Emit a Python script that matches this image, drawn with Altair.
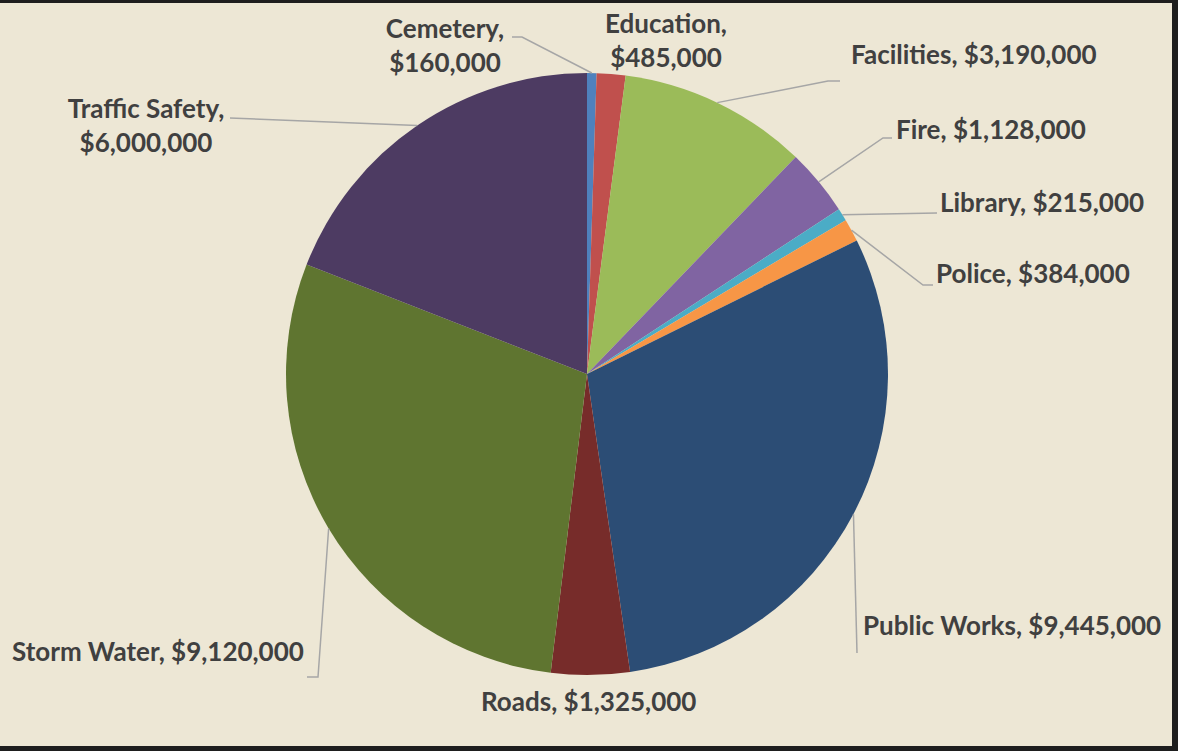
import altair as alt
import pandas as pd
import numpy as np

# ---- data ----
categories = ["Cemetery", "Education", "Facilities", "Fire", "Library", "Police",
              "Public Works", "Roads", "Storm Water", "Traffic Safety"]
amounts = [160000, 485000, 3190000, 1128000, 215000, 384000,
           9445000, 1325000, 9120000, 6000000]
label_texts = ["Cemetery,\n$160,000", "Education,\n$485,000", "Facilities, $3,190,000",
               "Fire, $1,128,000", "Library, $215,000", "Police, $384,000",
               "Public Works, $9,445,000", "Roads, $1,325,000",
               "Storm Water, $9,120,000", "Traffic Safety,\n$6,000,000"]

# ---- styles / layout ----
colors = ["#4F81BD", "#C0504D", "#9BBB59", "#8064A2", "#4BACC6", "#F79646",
          "#2C4D75", "#772C2A", "#5F7530", "#4D3B62"]
W, H = 1178, 751
CX, CY, R = 587, 374, 301
label_x = [445, 666, 851, 896, 940, 936, 863, 481, 12, 146]
label_y = [38, 33, 64, 139, 212, 283, 635, 711, 661, 118]
label_align = ["center", "center", "left", "left", "left", "left",
               "left", "left", "left", "center"]
# leader line bend points after the slice-edge point (None = no leader)
leader_bends = {
    "Cemetery": [(522, 37), (512, 37)],
    "Facilities": [(828, 81), (840, 81)],
    "Fire": [(883, 138), (892, 138)],
    "Library": [(937, 213)],
    "Police": [(923, 285), (933, 285)],
    "Public Works": [(857, 653)],
    "Storm Water": [(318, 677), (307, 677)],
    "Traffic Safety": [(230, 118)],
}

df = pd.DataFrame({"category": categories, "amount": amounts,
                   "idx": list(range(len(categories))), "label": label_texts,
                   "lx": label_x, "ly": label_y, "align": label_align})

total = float(np.sum(amounts))
cum = np.cumsum(amounts)
mid = (cum - np.array(amounts) / 2) / total * 2 * np.pi
edge_x = CX + R * np.sin(mid)
edge_y = CY - R * np.cos(mid)

rows = []
for i, c in enumerate(categories):
    if c not in leader_bends:
        continue
    pts = [(edge_x[i], edge_y[i])] + leader_bends[c]
    for k, (px, py) in enumerate(pts):
        rows.append({"category": c, "k": k, "px": px, "py": py})
lines_df = pd.DataFrame(rows)

xs = alt.Scale(domain=[0, W], nice=False, zero=False)
ys = alt.Scale(domain=[0, H], nice=False, zero=False, reverse=True)

bg = alt.Chart(pd.DataFrame({"a": [0]})).mark_rect(color="#EDE7D5").encode(
    x=alt.value(0), x2=alt.value(1172), y=alt.value(3), y2=alt.value(746))

pie = alt.Chart(df).mark_arc(outerRadius=R).encode(
    theta=alt.Theta("amount:Q", stack=True),
    color=alt.Color("category:N", scale=alt.Scale(domain=categories, range=colors), legend=None),
    order=alt.Order("idx:Q"),
    x=alt.value(CX), y=alt.value(CY))

leaders = alt.Chart(lines_df).mark_line(color="#A6A6A6", strokeWidth=1.5).encode(
    x=alt.X("px:Q", scale=xs, axis=None),
    y=alt.Y("py:Q", scale=ys, axis=None),
    detail="category:N",
    order="k:Q")

def text_layer(align):
    return alt.Chart(df[df["align"] == align]).mark_text(
        align=align, baseline="alphabetic", lineBreak="\n", lineHeight=34,
        font="Lato", fontWeight="bold", fontSize=26, color="#404040").encode(
        x=alt.X("lx:Q", scale=xs, axis=None),
        y=alt.Y("ly:Q", scale=ys, axis=None),
        text="label:N")

chart = alt.layer(bg, pie, leaders, text_layer("center"), text_layer("left")).properties(
    width=W, height=H, autosize=alt.AutoSizeParams(type="none"), padding=0,
    background="#1E1E1E").configure_view(stroke=None)

chart.save("out.html", embed_options={"renderer": "svg", "actions": False})
